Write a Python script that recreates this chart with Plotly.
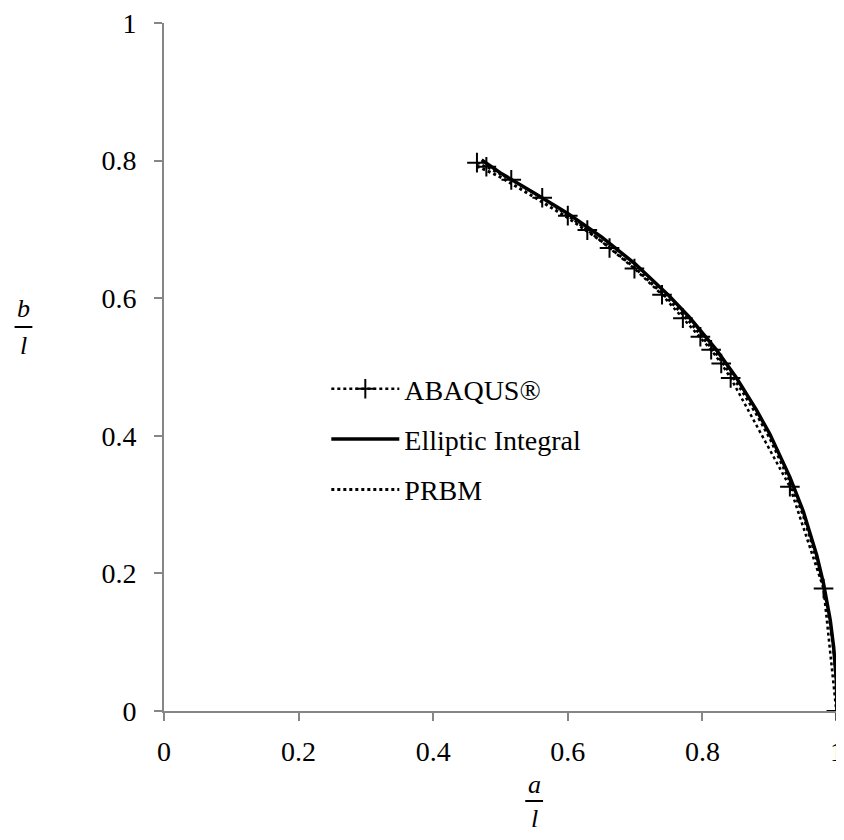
import plotly.graph_objects as go

# ABAQUS results (markers)
abaqus_a = [0.465, 0.479, 0.516, 0.562, 0.600, 0.629, 0.662, 0.699, 0.740, 0.771,
            0.797, 0.813, 0.828, 0.842, 0.930, 0.980, 0.999]
abaqus_b = [0.797, 0.791, 0.772, 0.746, 0.720, 0.699, 0.673, 0.643, 0.605, 0.571,
            0.544, 0.525, 0.505, 0.484, 0.326, 0.178, 0.0]

# Elliptic integral solution
ell_a = [0.472, 0.50, 0.55, 0.60, 0.65, 0.70, 0.75, 0.78, 0.82, 0.85, 0.88, 0.90,
         0.93, 0.95, 0.97, 0.98, 0.99, 0.995, 0.999, 1.0]
ell_b = [0.801, 0.782, 0.753, 0.723, 0.689, 0.650, 0.604, 0.573, 0.526, 0.485, 0.438, 0.403,
         0.340, 0.290, 0.226, 0.185, 0.132, 0.093, 0.045, 0.0]

# PRBM
prbm_a = [0.465, 0.50, 0.55, 0.60, 0.65, 0.70, 0.75, 0.78, 0.82, 0.85, 0.88, 0.90,
          0.93, 0.95, 0.97, 0.98, 0.99, 0.995, 0.999, 1.0]
prbm_b = [0.792, 0.776, 0.747, 0.717, 0.683, 0.644, 0.598, 0.567, 0.520, 0.479, 0.432, 0.397,
          0.334, 0.284, 0.220, 0.180, 0.127, 0.089, 0.042, 0.0]

tick_vals = [0, 0.2, 0.4, 0.6, 0.8, 1]
tick_text = ["0", "0.2", "0.4", "0.6", "0.8", "1"]

# page has an 8px body margin; figure is sized to fit the 844x840 window
OFF = 8
W, H = 836, 824
ML, MR, MT, MB = 156, 0, 15, 121
PW, PH = W - ML - MR, H - MT - MB

def px_x(px):
    return (px - OFF - ML) / PW

def px_y(py):
    return (H - MB - (py - OFF)) / PH

FONT = "Liberation Serif, Times New Roman, serif"

fig = go.Figure()
fig.add_trace(go.Scatter(
    x=prbm_a, y=prbm_b, name="PRBM", mode="lines",
    line=dict(color="black", width=3, dash="dot"), legendgroup="g3", legendrank=3,
    cliponaxis=False))
fig.add_trace(go.Scatter(
    x=ell_a, y=ell_b, name="Elliptic Integral", mode="lines",
    line=dict(color="black", width=3.5), legendgroup="g2", legendrank=2, cliponaxis=False))
fig.add_trace(go.Scatter(
    x=abaqus_a, y=abaqus_b, name="ABAQUS®", mode="lines+markers",
    line=dict(color="black", width=2.5, dash="dot"),
    marker=dict(symbol="cross-thin", size=14, line=dict(color="black", width=2)),
    legendgroup="g1", legendrank=1, cliponaxis=False))

axis_common = dict(
    range=[0, 1], tickvals=tick_vals, ticktext=tick_text,
    showline=True, linecolor="#868686", linewidth=2,
    ticks="outside", ticklen=8, tickcolor="#868686", tickwidth=2,
    showgrid=False, zeroline=False, ticklabeloverflow="allow",
    tickfont=dict(family=FONT, size=28, color="black"),
)
fig.update_xaxes(**axis_common, ticklabelstandoff=6)
fig.update_yaxes(**axis_common, ticklabelstandoff=12)

ann_font = dict(family=FONT, size=26, color="black")
annotations = [
    dict(x=px_x(22), y=px_y(308), text="<i>b</i>"),
    dict(x=px_x(22), y=px_y(345), text="<i>l</i>"),
    dict(x=px_x(538), y=px_y(784), text="<i>a</i>"),
    dict(x=px_x(538), y=px_y(818), text="<i>l</i>"),
]
for a in annotations:
    a.update(xref="paper", yref="paper", showarrow=False, font=ann_font,
             xanchor="center", yanchor="middle")

shapes = [
    dict(type="line", xref="paper", yref="paper", x0=px_x(13), x1=px_x(31),
         y0=px_y(327), y1=px_y(327), line=dict(color="black", width=2)),
    dict(type="line", xref="paper", yref="paper", x0=px_x(529), x1=px_x(547),
         y0=px_y(801), y1=px_y(801), line=dict(color="black", width=2)),
]

fig.update_layout(
    width=W, height=H,
    margin=dict(l=ML, r=MR, t=MT, b=MB),
    paper_bgcolor="white", plot_bgcolor="white",
    showlegend=True,
    legend=dict(x=px_x(328), y=px_y(364), xanchor="left", yanchor="top",
                font=dict(family=FONT, size=28, color="black"),
                bgcolor="rgba(0,0,0,0)", tracegroupgap=11, itemwidth=68,
                traceorder="grouped"),
    annotations=annotations, shapes=shapes,
)

fig.write_html("out.html")
